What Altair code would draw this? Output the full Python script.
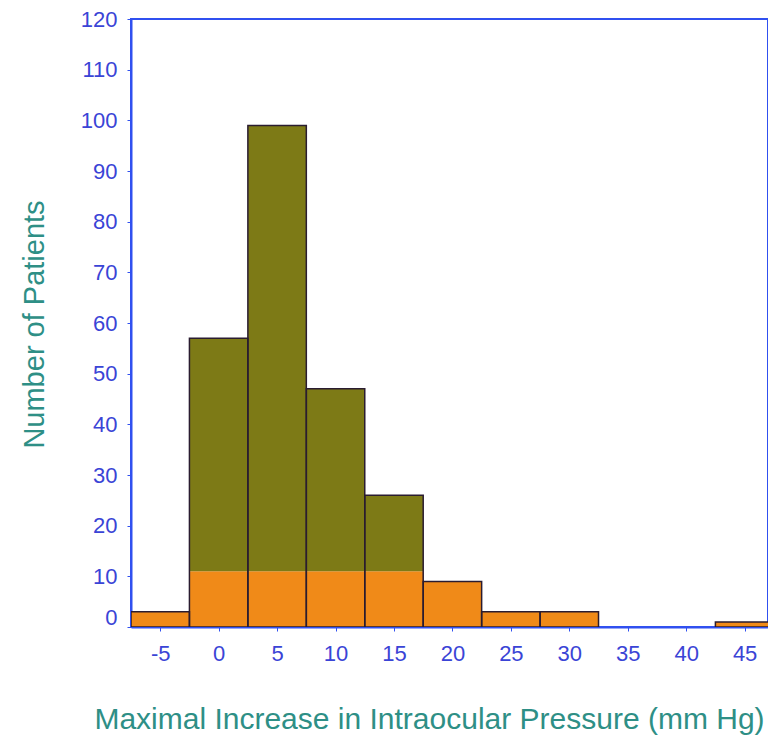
import altair as alt
import pandas as pd

# Bin centres (mm Hg) and patient counts
centers = [-5, 0, 5, 10, 15, 20, 25, 30, 35, 40, 45]
counts = [3, 57, 99, 47, 26, 9, 3, 3, 0, 0, 1]
tick_values = [-5, 0, 5, 10, 15, 20, 25, 30, 35, 40, 45]
y_ticks = list(range(0, 121, 10))
split = 11  # orange lower band / olive upper band

df = pd.DataFrame({"center": centers, "count": counts})

ORANGE = "#f08a18"
OLIVE = "#7d7a16"
AXIS_BLUE = "#3050f0"
LABEL_BLUE = "#3a44d6"
TITLE_COL = "#2e8f86"

x_scale = alt.Scale(domain=[-7.5, 47.0], nice=False, zero=False)
y_scale = alt.Scale(domain=[0, 120], nice=False)

x_axis = alt.Axis(
    values=tick_values,
    labelExpr="'' + datum.value",
    title="Maximal Increase in Intraocular Pressure (mm Hg)",
    grid=False,
    domainColor=AXIS_BLUE,
    domainWidth=2,
    tickColor=AXIS_BLUE,
    tickSize=4,
    labelPadding=12,
    labelFont="Liberation Sans",
    labelFontSize=22,
    labelColor=LABEL_BLUE,
    titleFont="Liberation Sans",
    titleFontSize=30,
    titleFontWeight="normal",
    titleColor=TITLE_COL,
    titleX=298,
    titleY=92,
    titleAlign="center",
    titleBaseline="middle",
)

y_axis = alt.Axis(
    values=y_ticks,
    title="Number of Patients",
    grid=False,
    domainColor=AXIS_BLUE,
    domainWidth=2,
    tickColor=AXIS_BLUE,
    tickSize=4,
    labelPadding=10,
    labelOffset={"condition": {"test": "datum.value == 0", "value": -10}, "value": 0},
    labelFont="Liberation Sans",
    labelFontSize=22,
    labelColor=LABEL_BLUE,
    titleFont="Liberation Sans",
    titleFontSize=29,
    titleFontWeight="normal",
    titleColor=TITLE_COL,
    titleX=-97,
    titleY=305,
    titleAlign="center",
    titleBaseline="middle",
    titleAngle=270,
)

base = alt.Chart(df).transform_filter("datum.count > 0").transform_calculate(
    x0="datum.center - 2.5",
    x1="datum.center + 2.5",
    low=f"min(datum.count, {split})",
)

orange = base.mark_bar(color=ORANGE, clip=True).encode(
    x=alt.X("x0:Q", scale=x_scale, axis=x_axis),
    x2="x1:Q",
    y=alt.Y("low:Q", scale=y_scale, axis=y_axis),
    y2=alt.datum(0),
)

olive = base.transform_filter(f"datum.count > {split}").mark_bar(color=OLIVE, clip=True).encode(
    x=alt.X("x0:Q", scale=x_scale),
    x2="x1:Q",
    y=alt.Y("count:Q", scale=y_scale),
    y2=alt.datum(split),
)

outline = base.mark_bar(fillOpacity=0, stroke="#2a1c30", strokeWidth=1.5, clip=True).encode(
    x=alt.X("x0:Q", scale=x_scale),
    x2="x1:Q",
    y=alt.Y("count:Q", scale=y_scale),
    y2=alt.datum(0),
)

chart = (
    alt.layer(orange, olive, outline)
    .properties(
        width=637,
        height=608,
        autosize=alt.AutoSizeParams(type="none"),
        padding={"left": 123, "top": 11, "right": 0, "bottom": 108},
        background="white",
    )
    .configure_view(stroke=AXIS_BLUE, strokeWidth=2, strokeOpacity=1)
)

chart.save("out.html", embed_options={"renderer": "svg", "actions": False})
